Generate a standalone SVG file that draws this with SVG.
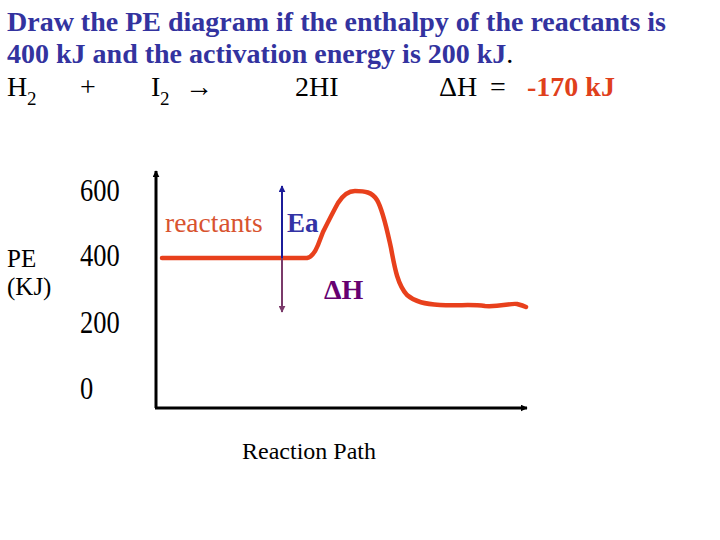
<svg xmlns="http://www.w3.org/2000/svg" width="720" height="540" viewBox="0 0 720 540">
<style>
.t{font-family:"Liberation Serif","Times New Roman",serif;}
.title{font-weight:bold;font-size:28px;fill:#33339f;}
.eq{font-size:28px;fill:#000;}
.sub{font-size:19px;fill:#000;}
.num{font-size:26.5px;fill:#000;}
.lab{font-size:25px;fill:#000;}
.axis{stroke:#000;stroke-width:3;fill:none;}
</style>
<defs>
<marker id="ah" viewBox="0 0 10 10" refX="9" refY="5" markerWidth="7" markerHeight="7" markerUnits="userSpaceOnUse" orient="auto"><path d="M0,0 L10,5 L0,10 z" fill="#000"/></marker>
<marker id="ahb" viewBox="0 0 10 10" refX="9" refY="5" markerWidth="7" markerHeight="7" markerUnits="userSpaceOnUse" orient="auto"><path d="M0,0 L10,5 L0,10 z" fill="#1c1c99"/></marker>
<marker id="ahp" viewBox="0 0 10 10" refX="9" refY="5" markerWidth="7" markerHeight="7" markerUnits="userSpaceOnUse" orient="auto"><path d="M0,0 L10,5 L0,10 z" fill="#7a3a6a"/></marker>
</defs>
<rect width="720" height="540" fill="#fff"/>
<g id="title">
<text class="t title" x="7" y="31">Draw the PE diagram if the enthalpy of the reactants is</text>
<text class="t title" x="7" y="63">400 kJ and the activation energy is 200 kJ<tspan style="font-weight:normal;fill:#000">.</tspan></text>
</g>
<g id="equation">
<text class="t eq" x="7" y="96">H</text>
<text class="t sub" x="27" y="105">2</text>
<text class="t eq" x="80" y="96">+</text>
<text class="t eq" x="151" y="96">I</text>
<text class="t sub" x="160" y="105">2</text>
<text class="t eq" x="185" y="96">→</text>
<text class="t eq" x="295" y="96">2HI</text>
<text class="t eq" x="439" y="96">ΔH</text>
<text class="t eq" x="490" y="96">=</text>
<text class="t eq" x="527" y="96" style="font-weight:bold;fill:#e0401c">-170 kJ</text>
</g>
<g id="axis-labels">
<text class="t lab" x="7" y="267">PE</text>
<text class="t lab" x="7" y="295">(KJ)</text>
<text class="t num" transform="translate(80,201) scale(1,1.17)">600</text>
<text class="t num" transform="translate(80,266) scale(1,1.17)">400</text>
<text class="t num" transform="translate(80,333) scale(1,1.17)">200</text>
<text class="t num" transform="translate(80,399) scale(1,1.17)">0</text>
<text class="t" x="242" y="459" style="font-size:24px;fill:#000">Reaction Path</text>
</g>
<g id="axes">
<line class="axis" x1="156" y1="408" x2="156" y2="171" marker-end="url(#ah)"/>
<line class="axis" x1="155" y1="408" x2="527" y2="408" marker-end="url(#ah)"/>
</g>
<g id="curve">
<path d="M162,258 H307 C312,257 316,250 318,245 L323,232 C328,222 333,212 338,203 C343,195 348,191 355,191 C365,191 372,192 377,200 C383,210 387,230 391,248 C395,270 398,285 407,295 C415,302 425,304 440,305 C460,306 470,304 485,306 C500,307 510,303 517,304 C521,305 524,306 526,307" fill="none" stroke="#e8401c" stroke-width="4.5" stroke-linecap="round" stroke-linejoin="round"/>
<text class="t" x="165" y="232" style="font-size:27.5px;fill:#d8532f">reactants</text>
</g>
<g id="connectors">
<line x1="282" y1="258" x2="282" y2="186" stroke="#1c1c99" stroke-width="2" marker-end="url(#ahb)"/>
<line x1="282" y1="258" x2="282" y2="312" stroke="#7a3a6a" stroke-width="2" marker-end="url(#ahp)"/>
</g>
<g id="ea-label">
<text class="t" x="287" y="232" style="font-size:27px;font-weight:bold;fill:#3333a5">Ea</text>
</g>
<g id="dh-label">
<text class="t" x="324" y="299" style="font-size:28px;font-weight:bold;fill:#660070">ΔH</text>
</g>
</svg>
